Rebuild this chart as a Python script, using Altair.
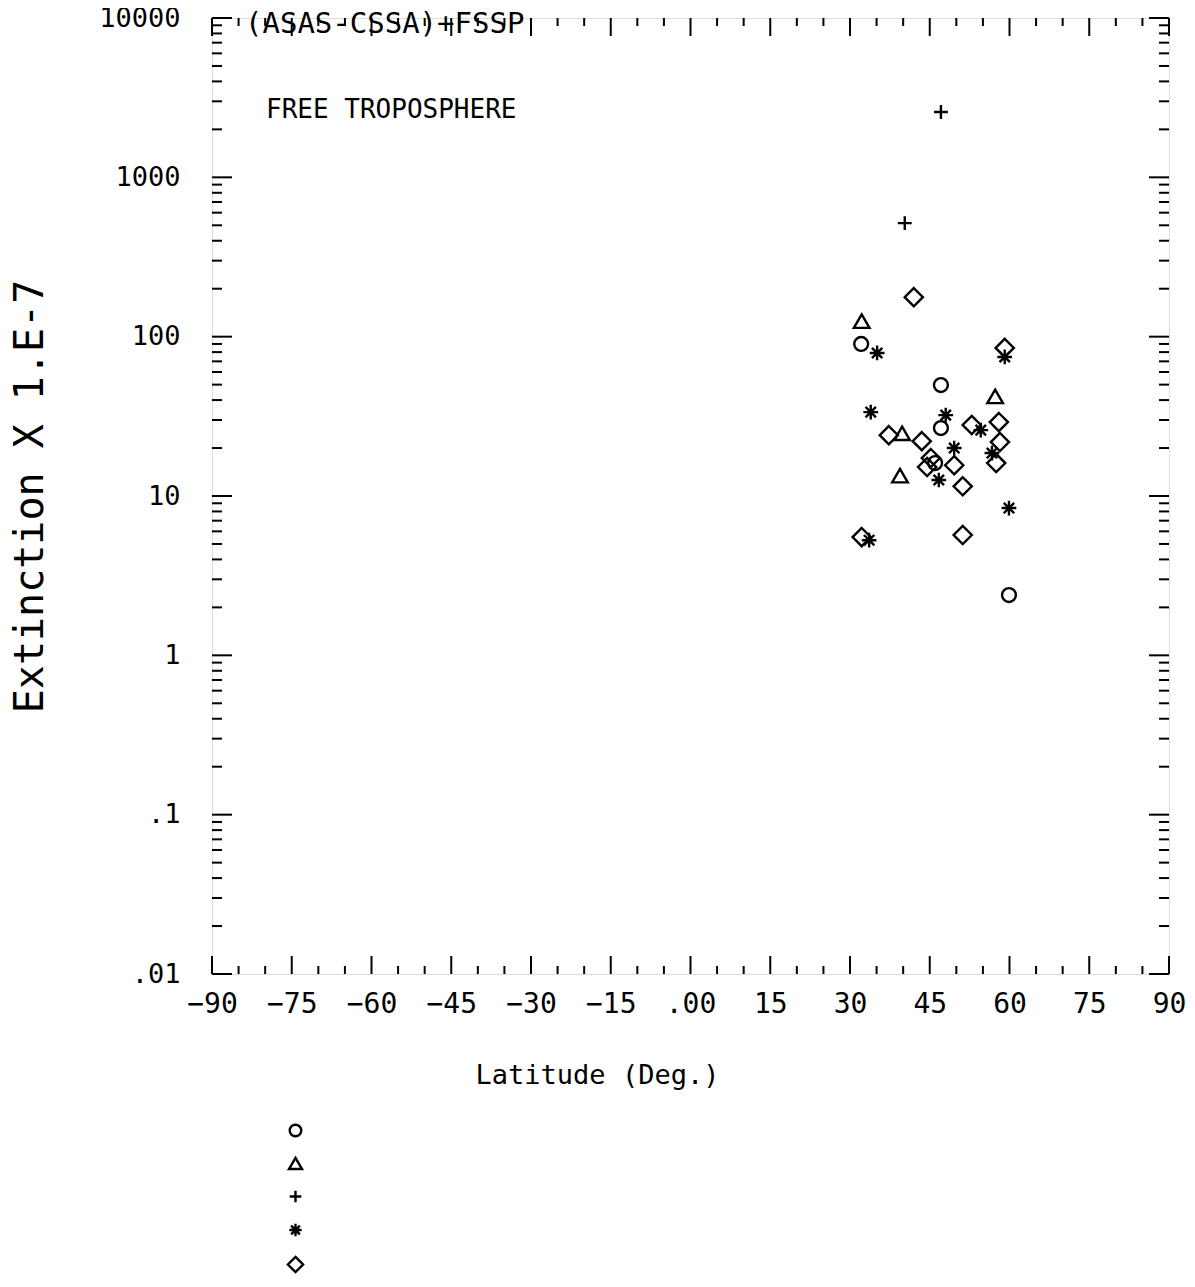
import altair as alt
import pandas as pd

# ---- data ----
series_names = ["s1", "s2", "s3", "s4", "s5"]

circle_lat = [32.1, 47.1, 47.1, 46.0, 59.9]
circle_val = [90, 49.7, 26.7, 16.1, 2.39]

triangle_lat = [32.2, 57.3, 39.8, 39.4]
triangle_val = [124, 41.8, 24.5, 13.3]

plus_lat = [47.1, 40.3]
plus_val = [2570, 516]

star_lat = [35.1, 59.1, 33.9, 48.0, 54.6, 49.6, 56.7, 46.7, 59.9, 33.6]
star_val = [79, 74.6, 33.6, 32.2, 25.9, 20.0, 18.6, 12.6, 8.4, 5.28]

diamond_lat = [42.0, 59.1, 37.3, 43.5, 52.9, 58.0, 58.2, 57.5, 45.2, 44.5, 49.6, 51.2, 32.2, 51.2]
diamond_val = [177, 85, 24.1, 22.1, 27.9, 29.1, 21.8, 16.1, 17.3, 15.2, 15.6, 11.5, 5.52, 5.69]

x_major = [-90, -75, -60, -45, -30, -15, 0, 15, 30, 45, 60, 75, 90]
x_minor = [v for v in range(-90, 91, 5) if v % 15 != 0]
y_major = [0.01, 0.1, 1, 10, 100, 1000, 10000]
y_minor = [m * d for d in [0.01, 0.1, 1, 10, 100, 1000] for m in range(2, 10)]

text_lines = ["(ASAS-CSSA)+FSSP", "FREE TROPOSPHERE"]

# ---- build table ----
rows = []
for name, lats, vals in zip(series_names,
                            [circle_lat, triangle_lat, plus_lat, star_lat, diamond_lat],
                            [circle_val, triangle_val, plus_val, star_val, diamond_val]):
    for la, va in zip(lats, vals):
        rows.append({"series": name, "lat": la, "val": va})
df = pd.DataFrame(rows)

W, H = 957, 956
FONT = "DejaVu Sans Mono"

shape_paths = [
    "M0.8,0A0.8,0.8 0 1 1 -0.8,0A0.8,0.8 0 1 1 0.8,0Z",
    "M0,-0.85L0.9,0.7L-0.9,0.7Z",
    "M-0.8,0L0.8,0M0,-0.8L0,0.8",
    "M-0.85,0L0.85,0M0,-0.85L0,0.85M-0.6,-0.6L0.6,0.6M-0.6,0.6L0.6,-0.6",
    "M0,-1.05L1.05,0L0,1.05L-1.05,0Z",
]

xscale = alt.Scale(domain=[-90, 90], nice=False, zero=False)
yscale = alt.Scale(type="log", domain=[0.01, 10000], nice=False)

xaxis = alt.Axis(values=x_major, title="Latitude (Deg.)", grid=False, domain=False, ticks=False,
                 labelExpr="datum.value == 0 ? '.00' : format(datum.value, 'd')",
                 labelFont=FONT, labelFontSize=28, labelColor="black", labelPadding=16,
                 labelFlush=False,
                 titleFont=FONT, titleFontSize=27, titleFontWeight="normal", titleColor="black",
                 titleX=385, titleY=101, titleBaseline="middle", titleAlign="center")
yaxis = alt.Axis(values=y_major, title="Extinction X 1.E-7", grid=False, domain=False, ticks=False,
                 labelExpr="datum.value < 0.05 ? '.01' : datum.value < 0.5 ? '.1' : format(datum.value, 'd')",
                 labelFont=FONT, labelFontSize=27, labelColor="black", labelPadding=32,
                 labelFlush=False,
                 titleFont=FONT, titleFontSize=40, titleFontWeight="normal", titleColor="black",
                 titleX=-182, titleY=478, titleAngle=270, titleBaseline="middle", titleAlign="center")

points = alt.Chart(df).mark_point(filled=False, color="black", strokeWidth=2.4, size=300, opacity=1).encode(
    x=alt.X("lat:Q", scale=xscale, axis=xaxis, title="Latitude (Deg.)"),
    y=alt.Y("val:Q", scale=yscale, axis=yaxis, title="Extinction X 1.E-7"),
    shape=alt.Shape("series:N", scale=alt.Scale(domain=series_names, range=shape_paths),
                    legend=alt.Legend(orient="none", legendX=75, legendY=1104, title=None,
                                      labelExpr="''", labelFontSize=1, symbolSize=210,
                                      symbolStrokeWidth=2.4, symbolStrokeColor="black",
                                      symbolFillColor="transparent", rowPadding=10.5, padding=0)),
)

xmaj_df = pd.DataFrame({"lat": x_major})
xmin_df = pd.DataFrame({"lat": x_minor})
ymaj_df = pd.DataFrame({"val": y_major})
ymin_df = pd.DataFrame({"val": y_minor})

def xticks(d, length):
    base = alt.Chart(d).mark_rule(color="black", strokeWidth=2)
    enc_x = alt.X("lat:Q", scale=xscale, axis=xaxis, title="Latitude (Deg.)")
    bottom = base.encode(x=enc_x, y=alt.value(H), y2=alt.value(H - length))
    top = base.encode(x=enc_x, y=alt.value(0), y2=alt.value(length))
    return [bottom, top]

def yticks(d, length):
    base = alt.Chart(d).mark_rule(color="black", strokeWidth=2)
    enc_y = alt.Y("val:Q", scale=yscale, axis=yaxis, title="Extinction X 1.E-7")
    left = base.encode(y=enc_y, x=alt.value(0), x2=alt.value(length))
    right = base.encode(y=enc_y, x=alt.value(W), x2=alt.value(W - length))
    return [left, right]

tick_layers = xticks(xmaj_df, 18) + xticks(xmin_df, 8) + yticks(ymaj_df, 20) + yticks(ymin_df, 10)

txt_df = pd.DataFrame({"t": text_lines})
t1 = alt.Chart(txt_df.iloc[[0]]).mark_text(font=FONT, fontSize=29, align="left", baseline="middle", color="black").encode(
    text="t:N", x=alt.value(33), y=alt.value(6))
t2 = alt.Chart(txt_df.iloc[[1]]).mark_text(font=FONT, fontSize=26, align="left", baseline="middle", color="black").encode(
    text="t:N", x=alt.value(54), y=alt.value(92))

chart = alt.layer(points, *tick_layers, t1, t2).properties(
    width=W, height=H,
    autosize="none",
    padding={"left": 204, "top": 10, "right": 18, "bottom": 305},
).configure_view(stroke="black", strokeWidth=2).configure(background="white")

chart.save("out.html", embed_options={"renderer": "svg", "actions": False})
